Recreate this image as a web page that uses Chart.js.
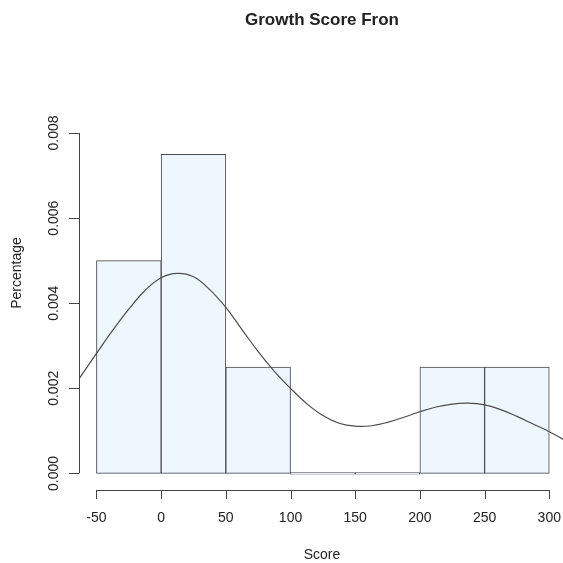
<!DOCTYPE html>
<html>
<head>
<meta charset="utf-8">
<script src="https://cdn.jsdelivr.net/npm/chart.js@4.4.1/dist/chart.umd.min.js"></script>
<style>
  html, body { margin: 0; padding: 0; background: #fff; }
  #wrap { width: 563px; height: 563px; }
</style>
</head>
<body>
<div id="wrap"><canvas id="hist" width="563" height="563"></canvas></div>
<script>
// histogram bins (width 50) and their densities
const binCenters = [-25, 25, 75, 125, 175, 225, 275];
const binDensity = [0.005, 0.0075, 0.0025, 0, 0, 0.0025, 0.0025];

// kernel density estimate, sampled along the score axis
const densityX = [-64, -50, -37.5, -25, -12.5, 0, 12.5, 25, 37.5, 50, 62.5, 75, 87.5, 100,
  112.5, 125, 137.5, 150, 162.5, 175, 187.5, 200, 212.5, 225, 237.5, 250, 262.5, 275, 287.5, 300, 312];
const densityY = [0.0022, 0.00282, 0.00336, 0.00386, 0.0043, 0.0046, 0.0047, 0.00462, 0.00432, 0.0039,
  0.00338, 0.00286, 0.0024, 0.002, 0.00164, 0.00136, 0.00118, 0.00111, 0.00112, 0.0012, 0.00132,
  0.00145, 0.00156, 0.00163, 0.00165, 0.00161, 0.0015, 0.00134, 0.00116, 0.00098, 0.00078];

const xTicks = [-50, 0, 50, 100, 150, 200, 250, 300];
const yTicks = [0, 0.002, 0.004, 0.006, 0.008];
const yTickLabels = ['0.000', '0.002', '0.004', '0.006', '0.008'];

const FONT = '"Liberation Sans", Arial, Helvetica, sans-serif';
const INK = '#222';

// base-graphics style axes, title and labels
const rAxes = {
  id: 'rAxes',
  afterDraw(chart) {
    const { ctx, scales: { x, y } } = chart;
    const axisX = chart.chartArea.left;
    const axisY = chart.chartArea.bottom;
    ctx.save();
    ctx.strokeStyle = '#444';
    ctx.lineWidth = 1;

    // x axis
    ctx.beginPath();
    ctx.moveTo(x.getPixelForValue(xTicks[0]), axisY + 0.5);
    ctx.lineTo(x.getPixelForValue(xTicks[xTicks.length - 1]), axisY + 0.5);
    xTicks.forEach((t) => {
      const px = Math.round(x.getPixelForValue(t)) + 0.5;
      ctx.moveTo(px, axisY);
      ctx.lineTo(px, axisY + 9);
    });
    ctx.stroke();

    // y axis
    ctx.beginPath();
    ctx.moveTo(axisX + 0.5, y.getPixelForValue(yTicks[0]));
    ctx.lineTo(axisX + 0.5, y.getPixelForValue(yTicks[yTicks.length - 1]));
    yTicks.forEach((t) => {
      const py = Math.round(y.getPixelForValue(t)) + 0.5;
      ctx.moveTo(axisX, py);
      ctx.lineTo(axisX - 10, py);
    });
    ctx.stroke();

    ctx.fillStyle = INK;
    ctx.textAlign = 'center';
    ctx.textBaseline = 'middle';
    ctx.font = '14px ' + FONT;
    xTicks.forEach((t) => {
      ctx.fillText(String(t), x.getPixelForValue(t), 518);
    });
    yTicks.forEach((t, i) => {
      ctx.save();
      ctx.translate(54, y.getPixelForValue(t));
      ctx.rotate(-Math.PI / 2);
      ctx.fillText(yTickLabels[i], 0, 0);
      ctx.restore();
    });

    ctx.fillText('Score', 322, 555);
    ctx.save();
    ctx.translate(17.5, 273);
    ctx.rotate(-Math.PI / 2);
    ctx.fillText('Percentage', 0, 0);
    ctx.restore();

    ctx.font = 'bold 17px ' + FONT;
    ctx.fillText('Growth Score Fron', 322, 20);
    ctx.restore();
  }
};

new Chart(document.getElementById('hist').getContext('2d'), {
  type: 'bar',
  data: {
    datasets: [
      {
        type: 'line',
        data: densityX.map((v, i) => ({ x: v, y: densityY[i] })),
        borderColor: '#4d4d4d',
        borderWidth: 1.2,
        pointRadius: 0,
        tension: 0.4,
        fill: false,
        order: 0
      },
      {
        type: 'bar',
        data: binCenters.map((v, i) => ({ x: v, y: binDensity[i] })),
        backgroundColor: '#eef6fe',
        borderColor: '#4a4a4a',
        borderWidth: 1,
        borderSkipped: false,
        minBarLength: 1.5,
        barPercentage: 1,
        categoryPercentage: 1,
        order: 1
      }
    ]
  },
  options: {
    responsive: false,
    animation: false,
    devicePixelRatio: 1,
    layout: { padding: { left: 79, right: 0, top: 116, bottom: 73 } },
    plugins: { legend: { display: false }, tooltip: { enabled: false } },
    scales: {
      x: { type: 'linear', min: -63.5, max: 310.6, offset: false, display: false },
      y: { type: 'linear', min: -0.00039, max: 0.0084, display: false }
    }
  },
  plugins: [rAxes]
});
</script>
</body>
</html>
